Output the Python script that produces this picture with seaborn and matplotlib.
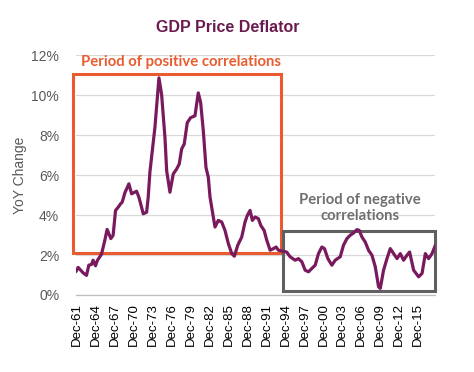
import matplotlib
matplotlib.use("Agg")
import matplotlib.pyplot as plt
import matplotlib.patches as patches
import seaborn as sns
import pandas as pd

# GDP price deflator, YoY change (%)
years = [1961.74, 1962.11, 1962.90, 1963.44, 1963.80, 1964.23, 1964.48, 1964.86, 1965.18, 1965.81,
         1966.34, 1966.70, 1967.29, 1967.65, 1968.03, 1968.45, 1968.83, 1969.08, 1969.51, 1970.14,
         1970.57, 1971.36, 1971.73, 1972.15, 1972.41, 1972.95, 1973.20, 1973.47, 1974.26, 1974.90,
         1975.32, 1975.85, 1976.12, 1976.64, 1977.16, 1977.70, 1978.11, 1978.49, 1978.90, 1979.38,
         1979.92, 1980.60, 1981.12, 1981.50, 1981.92, 1982.34, 1982.71, 1982.98, 1983.50, 1983.77,
         1984.29, 1984.83, 1985.35, 1985.88, 1986.42, 1986.83, 1987.37, 1988.00, 1988.52, 1988.89,
         1989.32, 1989.68, 1990.11, 1990.63, 1991.01, 1991.54, 1991.96, 1992.49, 1993.01, 1993.44,
         1993.80, 1994.30, 1995.10, 1995.66, 1996.45, 1996.97, 1997.51, 1998.03, 1998.56, 1999.10,
         1999.62, 2000.14, 2000.68, 2001.09, 2001.63, 2002.26, 2002.79, 2003.58, 2004.10, 2004.64,
         2005.16, 2005.69, 2006.23, 2006.59, 2007.02, 2007.54, 2008.06, 2008.60, 2009.13, 2009.65,
         2009.92, 2010.44, 2010.98, 2011.50, 2012.03, 2012.57, 2013.09, 2013.61, 2014.15, 2014.56,
         2015.20, 2015.99, 2016.53, 2017.05, 2017.57, 2018.11, 2018.64, 2018.90]
yoy = [1.16, 1.38, 1.11, 0.98, 1.49, 1.53, 1.74, 1.46, 1.74, 2.04,
       2.74, 3.28, 2.82, 2.99, 4.23, 4.39, 4.56, 4.64, 5.11, 5.56,
       5.06, 5.19, 4.89, 4.39, 4.06, 4.14, 4.89, 6.15, 8.37, 10.86,
       10.03, 7.88, 6.22, 5.14, 6.05, 6.30, 6.55, 7.30, 7.55, 8.62,
       8.87, 8.96, 10.11, 9.62, 8.21, 6.38, 5.89, 4.90, 3.90, 3.40,
       3.73, 3.65, 3.23, 2.57, 2.07, 1.94, 2.49, 2.90, 3.65, 3.98,
       4.23, 3.73, 3.90, 3.82, 3.48, 3.23, 2.74, 2.24, 2.32, 2.40,
       2.24, 2.20, 2.15, 1.91, 1.74, 1.82, 1.66, 1.24, 1.16, 1.33,
       1.49, 2.07, 2.40, 2.32, 1.82, 1.49, 1.74, 1.91, 2.49, 2.82,
       2.99, 3.10, 3.27, 3.23, 2.90, 2.65, 2.24, 1.99, 1.41, 0.41,
       0.33, 1.24, 1.82, 2.32, 2.07, 1.82, 2.07, 1.74, 1.99, 2.15,
       1.24, 0.91, 1.08, 2.07, 1.82, 2.07, 2.49, 2.40]

tick_years = list(range(1961, 2016, 3))
tick_labels = ["Dec-%02d" % (y % 100) for y in tick_years]

df = pd.DataFrame({"year": years, "yoy": yoy})

sns.set_style("white")
plt.rcParams["font.family"] = ["Liberation Sans", "DejaVu Sans"]

fig = plt.figure(figsize=(4.74, 3.72), dpi=100)
ax = fig.add_axes([0.160, 0.207, 0.758, 0.645])

line_col = "#7a1a5e"
orange = "#ea5b2f"
grey = "#606060"

sns.lineplot(data=df, x="year", y="yoy", ax=ax, color=line_col, linewidth=2.3, zorder=5)

ax.set_xlim(1961.75, 2018.6)
ax.set_ylim(0, 12)
ax.set_yticks(range(0, 13, 2))
ax.set_yticklabels(["%d%%" % v for v in range(0, 13, 2)], color="#595959", fontsize=10)
ax.yaxis.grid(True, color="#d9d9d9", linewidth=0.9)
ax.set_axisbelow(True)

ax.set_xticks([y + 0.92 for y in tick_years])
ax.set_xticklabels(tick_labels, rotation=90, fontsize=9.5, color="black")
ax.tick_params(axis="x", length=4, color="#bfbfbf", width=0.9, pad=2)
ax.tick_params(axis="y", length=0, pad=12)

for s in ["top", "right", "left"]:
    ax.spines[s].set_visible(False)
ax.spines["bottom"].set_color("#bfbfbf")
ax.spines["bottom"].set_linewidth(0.9)

ax.set_xlabel("")
ax.set_ylabel("YoY Change", color="#595959", fontsize=10)
ax.yaxis.set_label_coords(-0.135, 0.5)

# highlighted regions
ax.add_patch(patches.Rectangle((1961.3, 2.09), 1994.2 - 1961.3, 11.04 - 2.09,
                               fill=False, edgecolor=orange, linewidth=2.2, zorder=3, clip_on=False))
ax.add_patch(patches.Rectangle((1994.55, 0.2), 2018.5 - 1994.55, 3.18 - 0.2,
                               fill=False, edgecolor=grey, linewidth=2.2, zorder=3, clip_on=False))

ax.text(1962.5, 11.65, "Period of positive correlations", color=orange, fontsize=10.7,
        fontweight="bold", family=["Lato", "DejaVu Sans"], va="center", ha="left")
ax.text(2006.75, 4.35, "Period of negative\ncorrelations", color="#6f6f6f", fontsize=10.7,
        fontweight="bold", family=["Lato", "DejaVu Sans"], va="center", ha="center",
        linespacing=1.1)

fig.text(0.481, 0.927, "GDP Price Deflator", color="#6b1a4f", fontsize=11.5,
         fontweight="bold", ha="center", va="center")

fig.savefig("out.png", dpi=100)
